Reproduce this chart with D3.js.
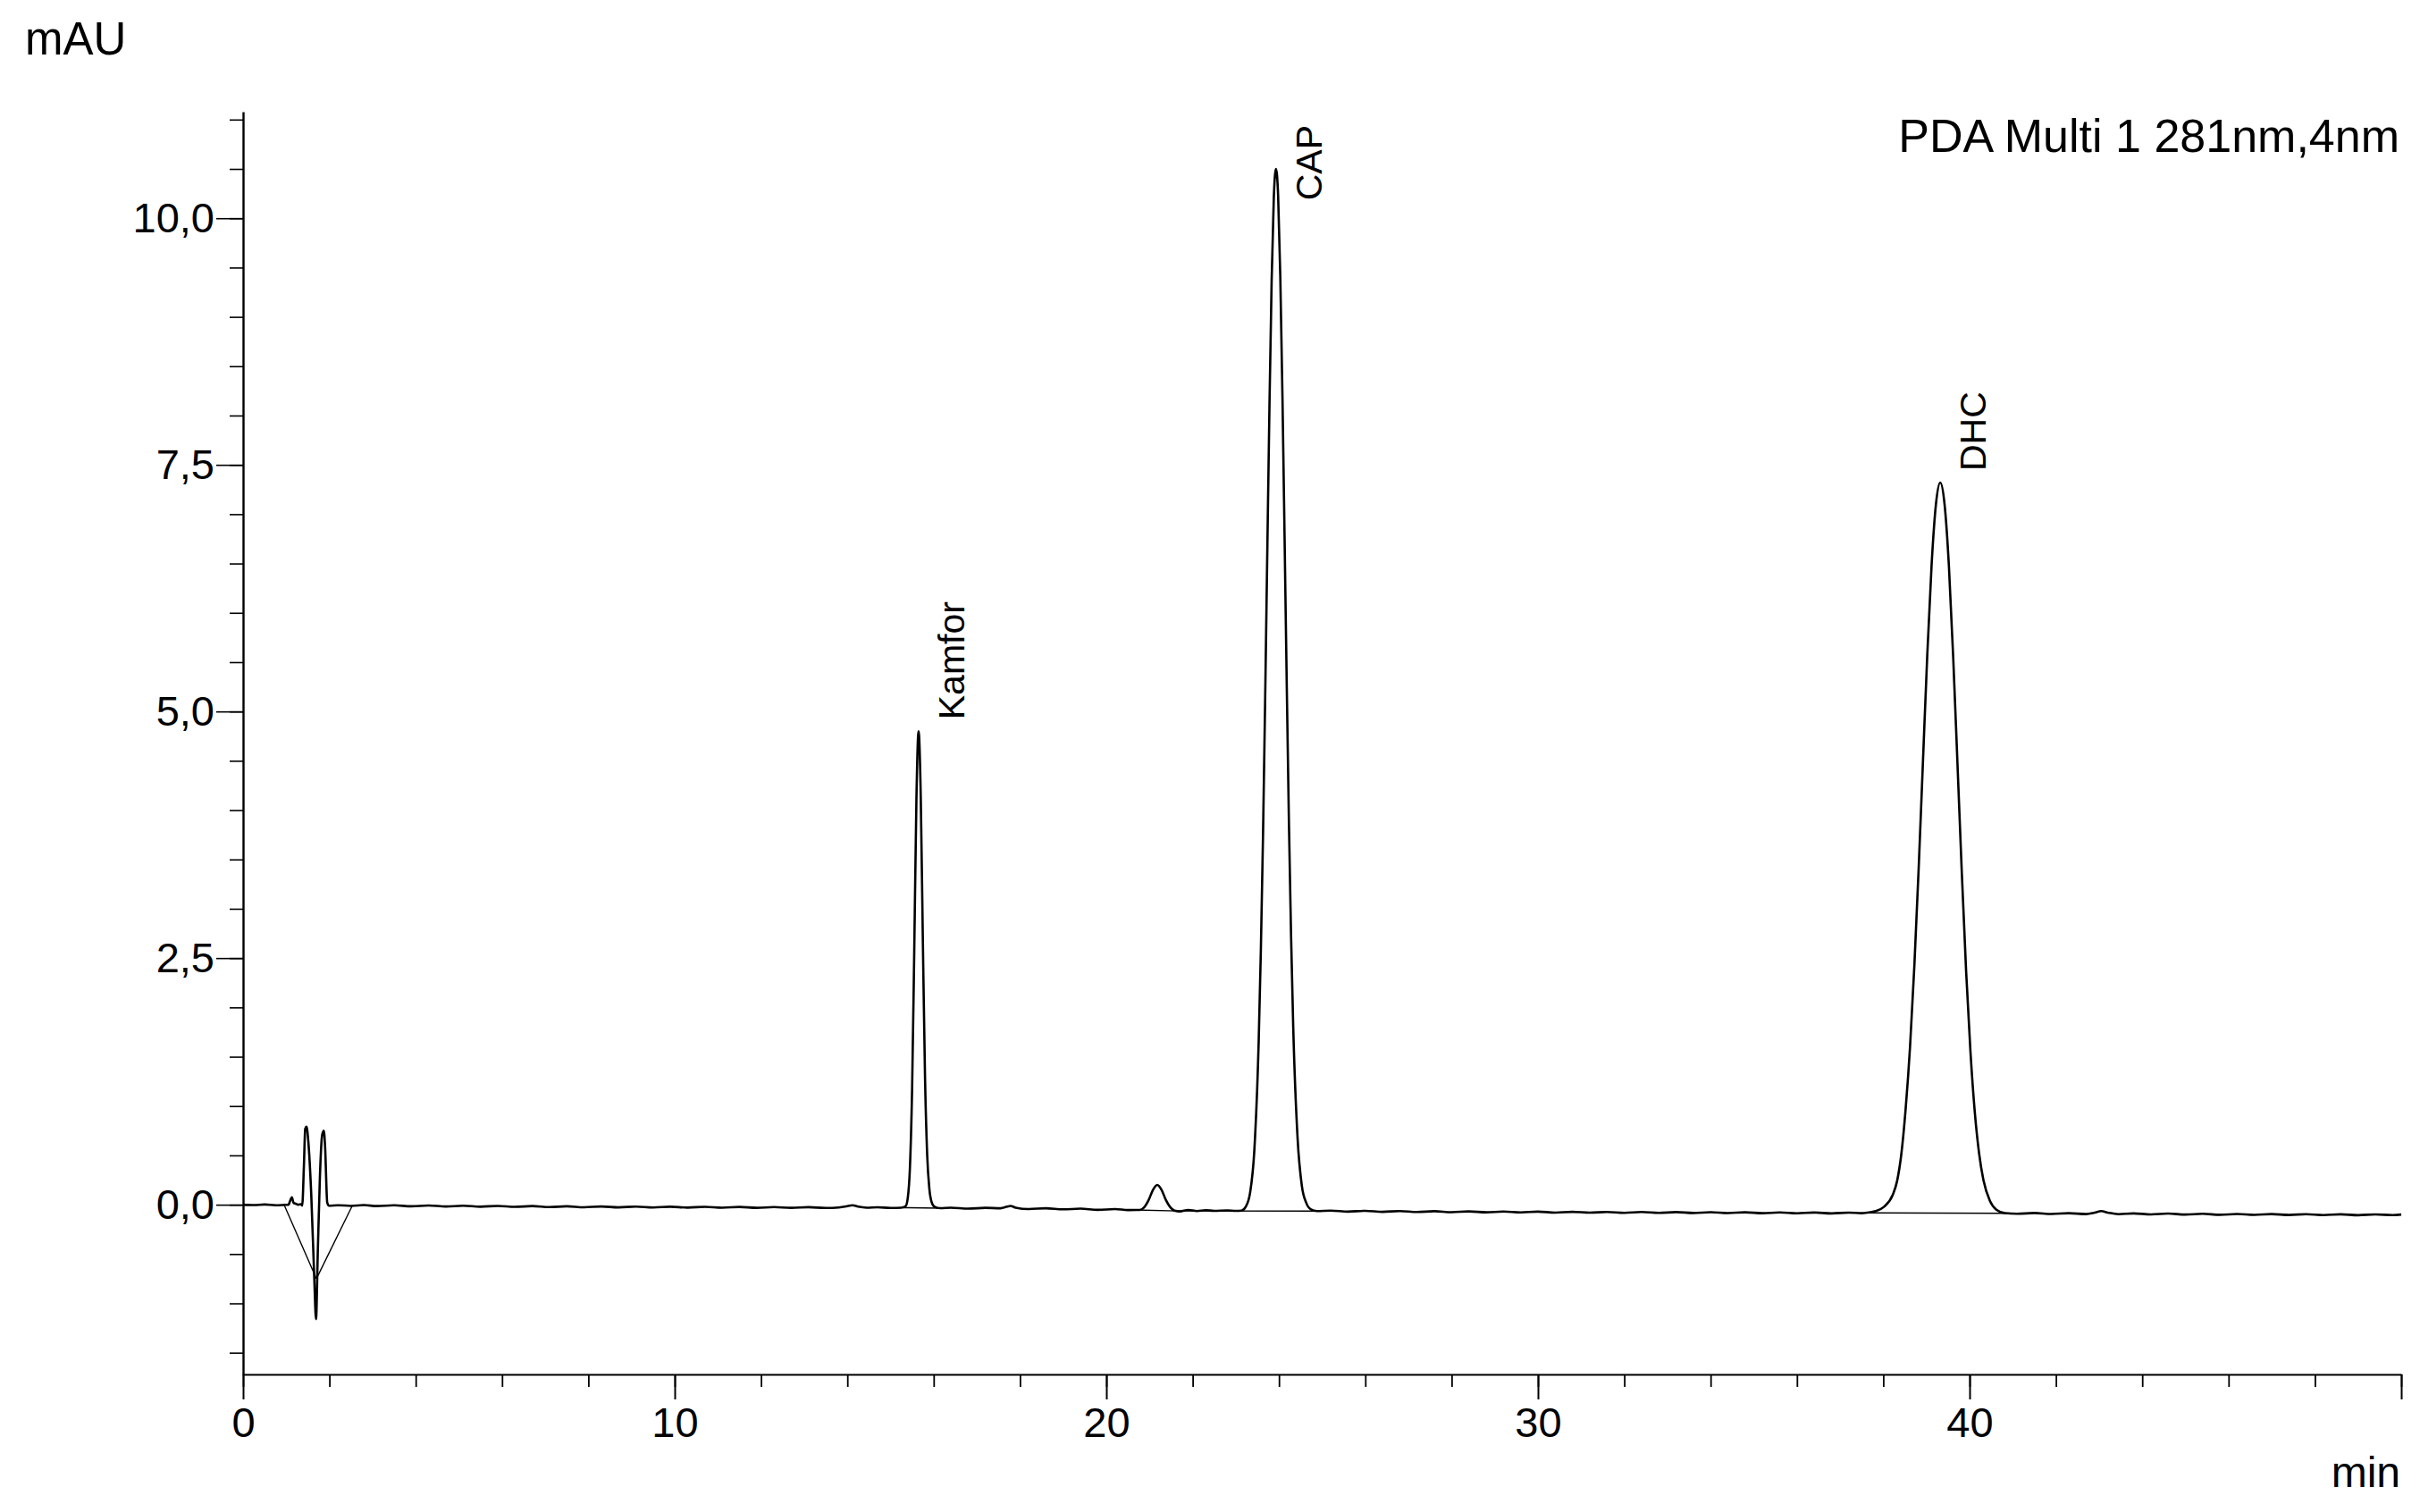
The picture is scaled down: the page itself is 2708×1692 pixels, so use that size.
<!DOCTYPE html>
<html>
<head>
<meta charset="utf-8">
<script src="https://cdn.jsdelivr.net/npm/d3@7"></script>
<style>
  body { margin: 0; background: #fff; }
  svg { display: block; font-family: "Liberation Sans", Arial, sans-serif; }
</style>
</head>
<body>
<div id="chart"></div>
<script>
// chromatogram trace, [time (min), signal (mAU)]
var trace = [
  [0.00,0.000],[0.25,-0.004],[0.50,0.002],[0.75,-0.005],[0.95,-0.002],[1.05,0.000],[1.10,0.05],[1.13,0.075],
  [1.17,0.02],[1.22,0.01],[1.28,0.000],[1.34,0.005],[1.37,-0.01],[1.41,0.40],[1.44,0.77],[1.47,0.79],
  [1.51,0.65],[1.58,0.10],[1.65,-0.75],[1.69,-1.16],[1.73,-0.50],[1.78,0.28],[1.83,0.70],[1.87,0.75],
  [1.90,0.59],[1.95,0.02],[1.99,-0.01],[2.2,-0.005],[2.5,-0.012],[2.8,-0.004],[3.1,-0.014],[3.5,-0.006],
  [3.9,-0.016],[4.3,-0.008],[4.7,-0.018],[5.1,-0.01],[5.5,-0.02],[5.9,-0.012],[6.3,-0.022],[6.7,-0.014],
  [7.1,-0.024],[7.5,-0.016],[7.9,-0.026],[8.3,-0.018],[8.7,-0.027],[9.1,-0.019],[9.5,-0.028],[9.9,-0.02],
  [10.3,-0.029],[10.7,-0.021],[11.1,-0.03],[11.5,-0.023],[11.9,-0.032],[12.3,-0.024],[12.7,-0.032],[13.1,-0.025],
  [13.5,-0.033],[13.8,-0.028],[14.0,-0.015],[14.12,-0.005],[14.25,-0.02],[14.45,-0.03],[14.7,-0.026],[15.0,-0.033],
  [15.25,-0.03],[15.35,-0.015],[15.40,0.07],[15.45,0.38],[15.50,1.17],[15.55,2.58],[15.60,4.11],[15.65,4.80],
  [15.70,4.15],[15.75,2.65],[15.80,1.28],[15.85,0.50],[15.90,0.16],[15.95,0.03],[16.02,-0.02],[16.15,-0.035],
  [16.4,-0.03],[16.8,-0.04],[17.2,-0.032],[17.55,-0.036],[17.7,-0.02],[17.78,-0.012],[17.9,-0.03],[18.2,-0.044],
  [18.6,-0.036],[19.0,-0.047],[19.4,-0.04],[19.8,-0.052],[20.2,-0.044],[20.5,-0.054],[20.78,-0.053],[20.88,-0.025],
  [20.98,0.047],[21.08,0.15],[21.18,0.20],[21.28,0.15],[21.38,0.047],[21.48,-0.025],[21.58,-0.06],[21.7,-0.068],
  [21.9,-0.053],[22.1,-0.064],[22.3,-0.056],[22.5,-0.062],[22.8,-0.058],[23.0,-0.062],[23.13,-0.06],[23.23,-0.02],
  [23.33,0.12],[23.43,0.56],[23.53,1.66],[23.58,2.58],[23.63,3.74],[23.68,5.14],[23.73,6.65],[23.78,8.12],
  [23.83,9.37],[23.88,10.21],[23.93,10.50],[23.98,10.23],[24.03,9.42],[24.08,8.20],[24.13,6.75],[24.18,5.26],
  [24.23,3.88],[24.28,2.72],[24.33,1.80],[24.43,0.68],[24.53,0.19],[24.63,0.02],[24.73,-0.045],[24.88,-0.065],
  [25.2,-0.06],[25.6,-0.07],[26.0,-0.062],[26.4,-0.072],[26.8,-0.064],[27.2,-0.074],[27.6,-0.066],[28.0,-0.076],
  [28.4,-0.068],[28.8,-0.077],[29.2,-0.069],[29.6,-0.078],[30.0,-0.07],[30.4,-0.08],[30.8,-0.072],[31.2,-0.081],
  [31.6,-0.073],[32.0,-0.082],[32.4,-0.074],[32.8,-0.083],[33.2,-0.075],[33.6,-0.084],[34.0,-0.076],[34.4,-0.085],
  [34.8,-0.077],[35.2,-0.086],[35.6,-0.078],[36.0,-0.087],[36.4,-0.079],[36.8,-0.088],[37.2,-0.08],[37.5,-0.086],
  [37.62,-0.08],[37.82,-0.065],[38.02,-0.02],[38.22,0.10],[38.32,0.24],[38.42,0.52],[38.52,0.98],[38.62,1.60],
  [38.72,2.42],[38.82,3.41],[38.92,4.50],[39.02,5.58],[39.12,6.49],[39.22,7.10],[39.32,7.32],[39.42,7.10],
  [39.52,6.48],[39.62,5.55],[39.72,4.46],[39.82,3.36],[39.92,2.36],[40.02,1.55],[40.12,0.94],[40.22,0.52],
  [40.32,0.25],[40.47,0.04],[40.62,-0.05],[40.82,-0.085],[41.1,-0.092],[41.5,-0.084],[41.9,-0.094],[42.3,-0.086],
  [42.7,-0.095],[42.9,-0.08],[43.05,-0.065],[43.2,-0.08],[43.45,-0.096],[43.8,-0.088],[44.2,-0.098],[44.6,-0.09],
  [45.0,-0.1],[45.4,-0.092],[45.8,-0.102],[46.2,-0.094],[46.6,-0.103],[47.0,-0.095],[47.4,-0.104],[47.8,-0.096],
  [48.2,-0.105],[48.6,-0.097],[49.0,-0.106],[49.4,-0.098],[49.8,-0.105],[50.0,-0.1]
];

// integration baselines drawn by the software
var baseSegs = [
  [[0.96,-0.01],[1.70,-0.75]],
  [[1.70,-0.75],[2.53,-0.01]],
  [[15.28,-0.03],[16.15,-0.035]],
  [[20.55,-0.052],[21.65,-0.063]],
  [[21.65,-0.063],[24.9,-0.065]],
  [[37.6,-0.082],[40.85,-0.087]]
];

var peakNames = ["Kamfor", "CAP", "DHC"];
var peakTimes = [15.65, 23.93, 39.32];
var peakTops = [4.80, 10.50, 7.32];

var xMajor = [0, 10, 20, 30, 40, 50];
var xMinor = d3.range(0, 50.01, 2);
var yMajor = [0, 2.5, 5, 7.5, 10];
var yMinor = d3.range(-1.5, 11.01, 0.5);

var W = 2708, H = 1692;
var mLeft = 272, mRight = 2687, mTop = 125, mBottom = 1538;

var svg = d3.select("#chart").append("svg")
  .attr("width", W)
  .attr("height", H);

var x = d3.scaleLinear().domain([0, 50]).range([mLeft, mRight]);
var y = d3.scaleLinear().domain([-1.72, 11.08]).range([mBottom, mTop]);

var fmt = function(d) { return d3.format(".1f")(d).replace(".", ","); };

// y axis: minor ticks then major ticks with labels
var yMin = svg.append("g").attr("transform", "translate(" + mLeft + ",0)")
  .call(d3.axisLeft(y).tickValues(yMinor).tickSize(15).tickSizeOuter(0).tickFormat(""));
yMin.select(".domain").remove();
yMin.selectAll("line").attr("stroke-width", 1.6);

var yMaj = svg.append("g").attr("transform", "translate(" + mLeft + ",0)")
  .call(d3.axisLeft(y).tickValues(yMajor).tickSize(30).tickPadding(2).tickSizeOuter(0).tickFormat(fmt));
yMaj.select(".domain").attr("stroke-width", 2.4);
yMaj.selectAll("line").attr("stroke-width", 1.6);
yMaj.selectAll("text").attr("font-size", 47).attr("font-family", "Liberation Sans, Arial, sans-serif").attr("fill", "#000");

// x axis
var xMin = svg.append("g").attr("transform", "translate(0," + mBottom + ")")
  .call(d3.axisBottom(x).tickValues(xMinor).tickSize(14).tickSizeOuter(0).tickFormat(""));
xMin.select(".domain").remove();
xMin.selectAll("line").attr("stroke-width", 1.8);

var xMaj = svg.append("g").attr("transform", "translate(0," + mBottom + ")")
  .call(d3.axisBottom(x).tickValues(xMajor).tickSize(28).tickPadding(9).tickSizeOuter(0)
    .tickFormat(function(d) { return d === 50 ? "" : d; }));
xMaj.select(".domain").attr("stroke-width", 2);
xMaj.selectAll("line").attr("stroke-width", 2);
xMaj.selectAll("text").attr("font-size", 47).attr("font-family", "Liberation Sans, Arial, sans-serif").attr("fill", "#000");

// axis titles
svg.append("text").attr("x", 28).attr("y", 61).attr("font-size", 51).text("mAU");
svg.append("text").attr("x", 2686).attr("y", 1664).attr("font-size", 48)
  .attr("text-anchor", "end").text("min");
svg.append("text").attr("x", 2685).attr("y", 170).attr("font-size", 52)
  .attr("text-anchor", "end").text("PDA Multi 1 281nm,4nm");

// integration baselines
svg.append("g").selectAll("line")
  .data(baseSegs)
  .enter().append("line")
  .attr("x1", function(d) { return x(d[0][0]); })
  .attr("y1", function(d) { return y(d[0][1]); })
  .attr("x2", function(d) { return x(d[1][0]); })
  .attr("y2", function(d) { return y(d[1][1]); })
  .attr("stroke", "#000")
  .attr("stroke-width", 1.4);

// signal
var line = d3.line()
  .x(function(d) { return x(d[0]); })
  .y(function(d) { return y(d[1]); })
  .curve(d3.curveMonotoneX);

svg.append("path")
  .datum(trace)
  .attr("d", line)
  .attr("fill", "none")
  .attr("stroke", "#000")
  .attr("stroke-width", 2.6)
  .attr("stroke-linejoin", "round");

// peak labels, rotated; pushed down when they would run past the top
peakNames.forEach(function(name, i) {
  var px = x(peakTimes[i]) + 51;
  var t = svg.append("text")
    .attr("font-size", 41)
    .text(name);
  var len = t.node().getComputedTextLength();
  var py = Math.max(y(peakTops[i]) - 13, mTop + 15 + len);
  t.attr("transform", "translate(" + px + "," + py + ") rotate(-90)");
});
</script>
</body>
</html>
